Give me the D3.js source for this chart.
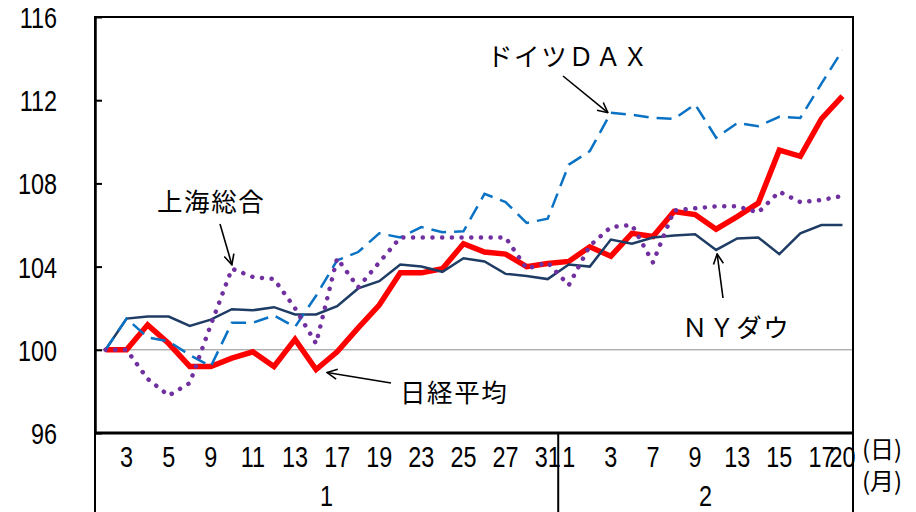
<!DOCTYPE html>
<html lang="ja">

<head>
  <meta charset="utf-8">
  <title></title>
</head>

<style media="screen">
  body {
    margin: 0;
    background: #fff;
  }

  .num {
    font-family: "Liberation Sans", Arial, sans-serif;
    font-size: 30px;
  }

  .jp {
    font-family: "Noto Sans CJK JP", sans-serif;
    font-size: 25.5px;
    letter-spacing: 1.6px;
  }

  .unit {
    font-family: "Noto Sans CJK JP", sans-serif;
    font-size: 24px;
  }
</style>

<body>
  <!-- Load d3.js -->
  <script src="https://d3js.org/d3.v7.min.js"></script>
  <div id="my_dataviz"></div>
</body>

<script>
  // day labels (every category, blank = not printed)
  var tickLabels = ["", "3", "", "5", "", "9", "", "11", "", "13", "", "17", "", "19", "", "23", "", "25", "", "27", "", "31",
    "1", "", "3", "", "7", "", "9", "", "13", "", "15", "", "17", "20"];
  var months = ["1", "2"];
  var monthStart = [0, 22];
  var yTicks = [96, 100, 104, 108, 112, 116];

  // index, base = 100
  var nikkei = [100, 100, 101.2, 100.3, 99.2, 99.2, 99.6, 99.9, 99.2, 100.5, 99.05, 99.9, 101.05, 102.15, 103.7, 103.7, 103.9, 105.1,
    104.7, 104.6, 104.0, 104.15, 104.25, 104.95, 104.5, 105.6, 105.45, 106.65, 106.5, 105.8, 106.4, 107.05, 109.6, 109.3, 111.1, 112.2];
  var dow = [100, 101.5, 101.6, 101.6, 101.15, 101.45, 101.95, 101.9, 102.05, 101.7, 101.7, 102.1, 102.95, 103.3, 104.1, 104.0, 103.75,
    104.4, 104.25, 103.65, 103.55, 103.4, 104.1, 104.0, 105.3, 105.1, 105.4, 105.5, 105.55, 104.8, 105.35, 105.4, 104.6, 105.6, 106.0, 106.0];
  var dax = [100, 101.5, 100.6, 100.4, 99.75, 99.2, 101.3, 101.3, 101.65, 101.1, 102.6, 104.3, 104.7, 105.6, 105.4, 105.9, 105.65, 105.7,
    107.5, 107.1, 106.1, 106.3, 108.9, 109.55, 111.4, 111.3, 111.15, 111.1, 111.8, 110.2, 110.9, 110.75, 111.2, 111.15, 112.8, 114.4];
  var shanghai = [100, 100, 98.6, 97.8, 98.4, 101.2, 103.9, 103.5, 103.4, 102.0, 100.3, 104.4, 103.0, 104.2, 105.4, 105.4, 105.4, 105.4,
    105.4, 105.4, 103.9, 104.2, 103.1, 105.0, 105.9, 106.0, 104.2, 106.7, 106.8, 106.9, 106.9, 106.6, 107.6, 107.1, 107.2, 107.4];

  var margin = { top: 17, right: 63, bottom: 79, left: 95 },
    width = 916 - margin.left - margin.right,
    height = 512 - margin.top - margin.bottom;

  var svg = d3.select("#my_dataviz")
    .append("svg")
    .attr("width", 916)
    .attr("height", 512)
    .append("g")
    .attr("transform", "translate(" + margin.left + "," + margin.top + ")");

  var x = d3.scalePoint()
    .domain(d3.range(tickLabels.length))
    .range([0, width])
    .padding(0.5);

  var y = d3.scaleLinear()
    .domain([96, 116])
    .range([height, 0]);

  // narrow numeric text (squeezed horizontally like the original font)
  function numText(g, tx, ty, anchor, str) {
    return g.append("text")
      .attr("class", "num")
      .attr("transform", "translate(" + tx + "," + ty + ") scale(0.78,1)")
      .attr("text-anchor", anchor)
      .text(str);
  }

  // 100 reference line
  svg.append("line")
    .attr("x1", 0).attr("x2", width)
    .attr("y1", y(100)).attr("y2", y(100))
    .attr("stroke", "#8c8c8c")
    .attr("stroke-width", 1);

  // series
  var line = d3.line()
    .x(function(d, i) { return x(i); })
    .y(function(d) { return y(d); });

  svg.append("path").datum(nikkei)
    .attr("d", line).attr("fill", "none")
    .attr("stroke", "#ff0000").attr("stroke-width", 5.5);

  svg.append("path").datum(dow)
    .attr("d", line).attr("fill", "none")
    .attr("stroke", "#1f3c64").attr("stroke-width", 2.5);

  svg.append("path").datum(dax)
    .attr("d", line).attr("fill", "none")
    .attr("stroke", "#0a72c4").attr("stroke-width", 2.5)
    .attr("stroke-dasharray", "15,8");

  svg.append("path").datum(shanghai)
    .attr("d", line).attr("fill", "none")
    .attr("stroke", "#7030a0").attr("stroke-width", 4.5)
    .attr("stroke-linecap", "round")
    .attr("stroke-dasharray", "0.1,9.6");

  // plot frame
  svg.append("rect")
    .attr("width", width).attr("height", height)
    .attr("fill", "none")
    .attr("stroke", "#000")
    .attr("stroke-width", 2);

  // y axis, ticks pointing inward, labels drawn separately
  svg.append("g")
    .call(d3.axisLeft(y).tickValues(yTicks).tickSizeInner(-7).tickSizeOuter(0).tickFormat(""))
    .call(function(g) { g.select(".domain").attr("stroke-width", 2.5); })
    .call(function(g) { g.selectAll("line").attr("stroke-width", 2); });

  var yLab = svg.append("g");
  yTicks.forEach(function(v) { numText(yLab, -38, y(v) + 11, "end", v); });

  // bottom axis line
  svg.append("line")
    .attr("x1", 0).attr("x2", width)
    .attr("y1", height).attr("y2", height)
    .attr("stroke", "#000").attr("stroke-width", 3);

  // day labels
  var dayLab = svg.append("g");
  tickLabels.forEach(function(d, i) { if (d) numText(dayLab, x(i), height + 34, "middle", d); });

  // month groups and separators
  var bounds = monthStart.map(function(s) { return s === 0 ? 0 : (x(s - 1) + x(s)) / 2; }).concat([width]);

  svg.append("g")
    .selectAll("line")
    .data(bounds)
    .enter()
    .append("line")
    .attr("x1", function(d) { return d; }).attr("x2", function(d) { return d; })
    .attr("y1", height).attr("y2", 512 - margin.top)
    .attr("stroke", "#000").attr("stroke-width", 2);

  var monLab = svg.append("g");
  months.forEach(function(m, i) { numText(monLab, (bounds[i] + bounds[i + 1]) / 2, height + 73, "middle", m); });

  // unit labels
  svg.append("text").attr("class", "unit")
    .attr("x", width + 9).attr("y", height + 14)
    .attr("dominant-baseline", "central").text("(日)");
  svg.append("text").attr("class", "unit")
    .attr("x", width + 9).attr("y", height + 46)
    .attr("dominant-baseline", "central").text("(月)");

  // annotations with arrows
  svg.append("defs").append("marker")
    .attr("id", "arrow")
    .attr("viewBox", "0 0 12 12")
    .attr("refX", 11).attr("refY", 6)
    .attr("markerWidth", 12).attr("markerHeight", 12)
    .attr("markerUnits", "userSpaceOnUse")
    .attr("orient", "auto")
    .append("path")
    .attr("d", "M1,1 L11,6 L1,11")
    .attr("fill", "none")
    .attr("stroke", "#000")
    .attr("stroke-width", 1.6);

  var notes = [
    { text: "ドイツＤＡＸ", tx: 392, ty: 37, sx: 468, sy: 59, data: dax, i: 24, dx: -3, dy: 0 },
    { text: "上海総合", tx: 62, ty: 182, sx: 125, sy: 207, data: shanghai, i: 6, dx: 0, dy: -4 },
    { text: "日経平均", tx: 305, ty: 373, sx: 296, sy: 366, data: nikkei, i: 10, dx: 11, dy: 3 },
    { text: "ＮＹダウ", tx: 587, ty: 308, sx: 628, sy: 281, data: dow, i: 29, dx: 1, dy: 4 }
  ];

  notes.forEach(function(n) {
    svg.append("text")
      .attr("class", "jp")
      .attr("x", n.tx).attr("y", n.ty)
      .attr("dominant-baseline", "central")
      .text(n.text);
    svg.append("line")
      .attr("x1", n.sx).attr("y1", n.sy)
      .attr("x2", x(n.i) + n.dx).attr("y2", y(n.data[n.i]) + n.dy)
      .attr("stroke", "#000").attr("stroke-width", 1.6)
      .attr("marker-end", "url(#arrow)");
  });
</script>

</html>
